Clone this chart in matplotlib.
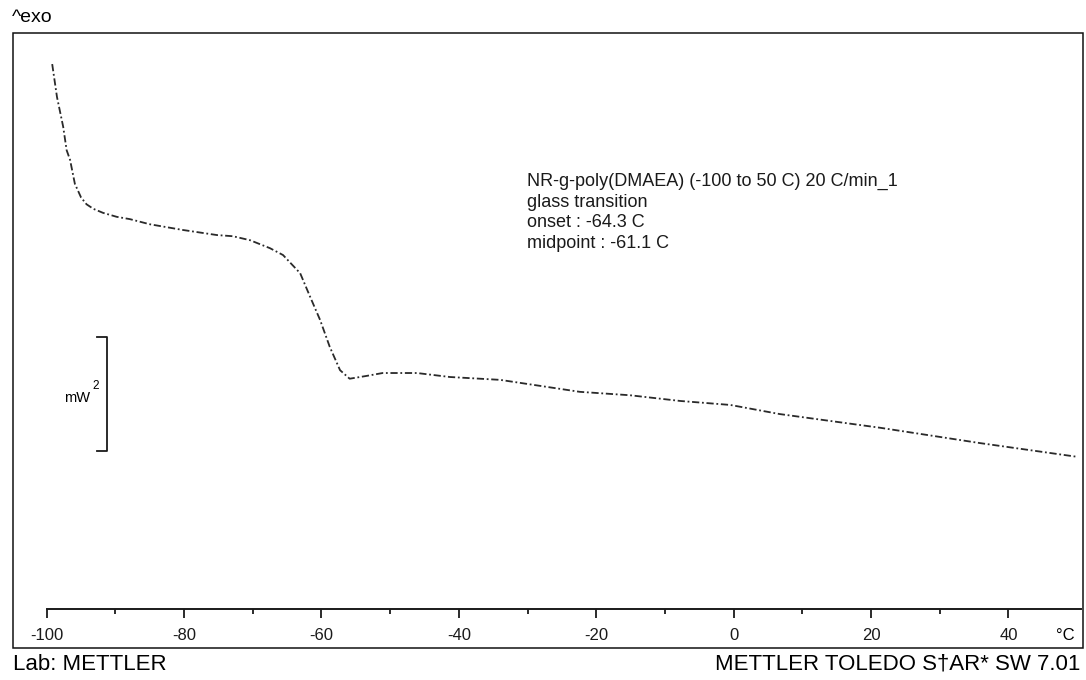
import numpy as np
import matplotlib
matplotlib.use("Agg")
import matplotlib.pyplot as plt
from matplotlib.patches import Rectangle

plt.rcParams['font.family'] = ['Liberation Sans', 'DejaVu Sans']

# DSC curve: temperature (C) and heat flow (mW, arbitrary offset)
temp = [-99.2, -98.5, -97.6, -97.1, -96.6, -95.9, -95.0, -94.2, -93.2, -91.8,
        -89.8, -87.9, -85.0, -80.2, -75.2, -72.9, -70.4, -67.5, -65.6, -63.1,
        -61.7, -60.2, -58.8, -57.3, -55.9, -53.4, -51.1, -46.1, -41.3, -36.9,
        -34.0, -22.4, -15.1, -7.8, -0.5, 6.7, 21.3, 35.9, 50.0]
heat_flow = [9.56, 8.98, 8.46, 8.05, 7.88, 7.46, 7.22, 7.10, 7.02, 6.95,
             6.88, 6.84, 6.75, 6.65, 6.56, 6.54, 6.47, 6.33, 6.21, 5.89,
             5.49, 5.07, 4.60, 4.19, 4.04, 4.09, 4.14, 4.14, 4.07, 4.04,
             4.02, 3.81, 3.75, 3.65, 3.58, 3.42, 3.18, 2.91, 2.67]

major_ticks = [-100, -80, -60, -40, -20, 0, 20, 40]
minor_ticks = [-90, -70, -50, -30, -10, 10, 30]

info = ["NR-g-poly(DMAEA) (-100 to 50 C) 20 C/min_1",
        "glass transition",
        "onset : -64.3 C",
        "midpoint : -61.1 C"]

W, H = 1086, 680
fig = plt.figure(figsize=(W / 100, H / 100), dpi=100)
fig.patch.set_facecolor('white')

# axes placed so that the axis line sits where it is in the scan
ax = fig.add_axes([46.7 / W, (H - 609) / H, 1033.9 / W, 570 / H])
ax.set_xlim(-100, 50.5)
ax.set_ylim(0, 10)
ax.patch.set_alpha(0)
for s in ['top', 'left', 'right']:
    ax.spines[s].set_visible(False)
ax.spines['bottom'].set_linewidth(1.4)
ax.spines['bottom'].set_color('#1a1a1a')
ax.set_yticks([])
ax.set_xticks(major_ticks)
ax.set_xticks(minor_ticks, minor=True)
ax.set_xticklabels([str(t) for t in major_ticks])
ax.tick_params(axis='x', which='major', direction='out', length=6.5, width=1.3,
               pad=7, labelsize=12, colors='#1a1a1a')
ax.tick_params(axis='x', which='minor', direction='out', length=3.6, width=1.3,
               colors='#1a1a1a')

ax.plot(temp, heat_flow, color='#2a2a2a', lw=1.3,
        linestyle=(0, (4, 1.5, 1, 1.5)))

# 2 mW scale bar
bar_x, bar_lo, bar_hi = -91.2, 2.77, 4.77
ax.plot([bar_x - 1.45, bar_x, bar_x, bar_x - 1.45],
        [bar_hi, bar_hi, bar_lo, bar_lo], color='#1a1a1a', lw=1.3)
fig.text(64 / W, 1 - 398 / H, "mW", fontsize=10.5, va='center', ha='left')
fig.text(92 / W, 1 - 386 / H, "2", fontsize=8.5, va='center', ha='left')

fig.text(527 / W, 1 - 173 / H, "\n".join(info), fontsize=13, va='top',
         ha='left', linespacing=1.27, color='#1a1a1a')

# outer frame and labels
fig.add_artist(Rectangle((13 / W, (H - 648) / H), 1070 / W, 615 / H,
                         transform=fig.transFigure, fill=False,
                         lw=1.1, ec='#111111'))
fig.text(12 / W, 1 - 18 / H, "^exo", fontsize=14, va='center', ha='left')
fig.text(1065 / W, 1 - 635 / H, "°C", fontsize=12, va='center', ha='center')
fig.text(13 / W, 1 - 664 / H, "Lab: METTLER", fontsize=16, va='center', ha='left')
fig.text(1080 / W, 1 - 664 / H, "METTLER TOLEDO S\u2020AR* SW 7.01", fontsize=16,
         va='center', ha='right')

fig.savefig("out.png", dpi=100)
